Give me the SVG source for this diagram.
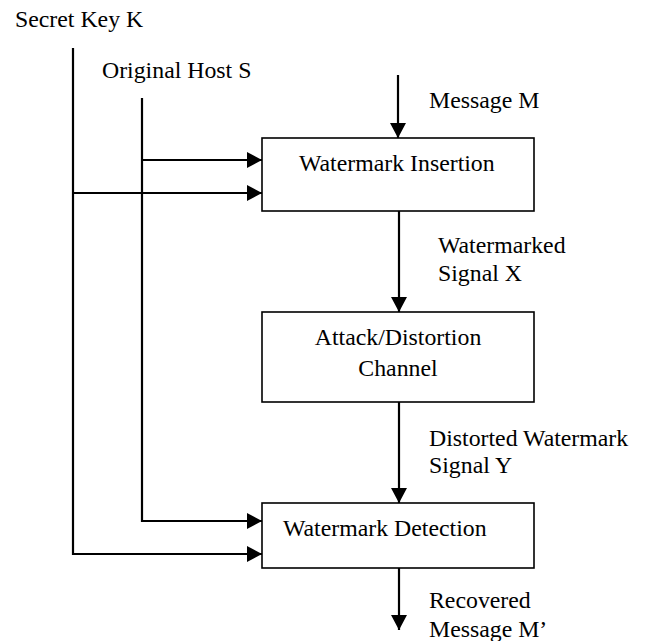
<svg xmlns="http://www.w3.org/2000/svg" width="645" height="641" viewBox="0 0 645 641">
<style>
text{font-family:'Liberation Serif','DejaVu Serif',serif;font-size:23.8px;fill:#000}
.box{fill:#fff;stroke:#000;stroke-width:1.6}
.ln{fill:none;stroke:#000;stroke-width:2.2}
</style>
<defs>
<marker id="ah" markerWidth="15" markerHeight="16" refX="15" refY="8" orient="auto" markerUnits="userSpaceOnUse">
<path d="M0,0 L15,8 L0,16 Z" fill="#000"/>
</marker>
</defs>
<rect width="645" height="641" fill="#fff"/>
<g id="connectors">
<polyline class="ln" points="73,48 73,554 262,554" marker-end="url(#ah)"/>
<polyline class="ln" points="142,98 142,521 262,521" marker-end="url(#ah)"/>
<line class="ln" x1="142" y1="160" x2="262" y2="160" marker-end="url(#ah)"/>
<line class="ln" x1="73" y1="193" x2="262" y2="193" marker-end="url(#ah)"/>
<line class="ln" x1="398" y1="75" x2="398" y2="138" marker-end="url(#ah)"/>
<line class="ln" x1="399" y1="211" x2="399" y2="312" marker-end="url(#ah)"/>
<line class="ln" x1="399" y1="402" x2="399" y2="503" marker-end="url(#ah)"/>
<line class="ln" x1="399" y1="568" x2="399" y2="630" marker-end="url(#ah)"/>
</g>
<g id="labels">
<text x="15" y="27">Secret Key K</text>
<text x="102" y="78">Original Host S</text>
<text x="429" y="108">Message M</text>
<text x="438" y="253">Watermarked</text>
<text x="438" y="281">Signal X</text>
<text x="429" y="446">Distorted Watermark</text>
<text x="429" y="473">Signal Y</text>
<text x="429" y="608">Recovered</text>
<text x="429" y="637">Message M’</text>
</g>
<g id="insertion">
<rect class="box" x="262" y="138" width="272" height="73"/>
<text x="299" y="171">Watermark Insertion</text>
</g>
<g id="channel">
<rect class="box" x="262" y="312" width="272" height="90"/>
<text x="398" y="345" text-anchor="middle">Attack/Distortion</text>
<text x="398" y="376" text-anchor="middle">Channel</text>
</g>
<g id="detection">
<rect class="box" x="262" y="503" width="272" height="65"/>
<text x="283" y="536">Watermark Detection</text>
</g>
</svg>
